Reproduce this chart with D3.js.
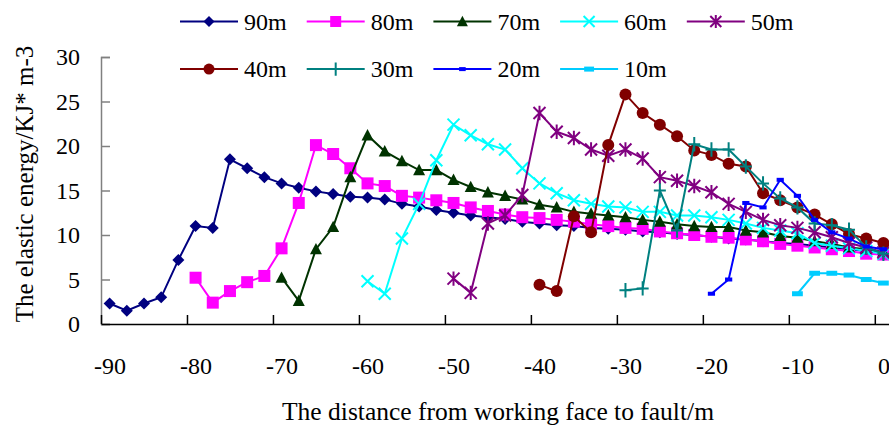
<!DOCTYPE html>
<html>
<head>
<meta charset="utf-8">
<script src="https://cdn.jsdelivr.net/npm/d3@7"></script>
<style>
  body { margin: 0; background: #fff; }
  svg { display: block; }
  svg text { font-family: 'Liberation Serif', 'Times New Roman', serif; }
</style>
</head>
<body>
<div id="chart"></div>
<script>
// distance from working face to fault (m), one category every 2 m
const distances = [-90, -88, -86, -84, -82, -80, -78, -76, -74, -72, -70, -68, -66, -64, -62, -60,
  -58, -56, -54, -52, -50, -48, -46, -44, -42, -40, -38, -36, -34, -32, -30, -28, -26, -24, -22,
  -20, -18, -16, -14, -12, -10, -8, -6, -4, -2, 0]
const xLabels = [-90, -80, -70, -60, -50, -40, -30, -20, -10, 0]
const yTicks = [0, 5, 10, 15, 20, 25, 30]

// elastic energy per series, each one ends at 0 m
const e90 = [2.3, 1.5, 2.3, 3.0, 7.2, 11.0, 10.8, 18.5, 17.5, 16.5, 15.8, 15.3, 14.9, 14.6, 14.3, 14.2,
  14.0, 13.5, 13.2, 12.8, 12.5, 12.2, 12.0, 11.8, 11.5, 11.3, 11.1, 11.0, 10.8, 10.7, 10.6, 10.4,
  10.3, 10.1, 10.0, 9.8, 9.6, 9.5, 9.3, 9.1, 9.0, 8.8, 8.6, 8.4, 8.2, 8.0]
const e80 = [5.2, 2.4, 3.7, 4.7, 5.4, 8.5, 13.6, 20.1, 19.1, 17.5, 15.8, 15.5, 14.4, 14.2, 13.9, 13.6,
  13.1, 12.7, 12.3, 12.0, 11.9, 11.7, 11.5, 11.2, 11.0, 10.8, 10.7, 10.4, 10.2, 10.0, 9.8, 9.7,
  9.5, 9.3, 9.0, 8.8, 8.6, 8.4, 8.2, 7.9, 7.8]
const e70 = [5.2, 2.6, 8.4, 10.9, 16.5, 21.2, 19.4, 18.3, 17.3, 17.3, 16.2, 15.4, 14.8, 14.4, 14.0,
  13.4, 13.1, 12.6, 12.4, 12.2, 12.0, 11.7, 11.5, 11.2, 11.0, 10.9, 10.9, 10.5, 10.3, 9.9, 9.7,
  9.3, 9.0, 8.6, 8.4, 8.1]
const e60 = [4.8, 3.4, 9.6, 13.5, 18.4, 22.4, 21.2, 20.2, 19.6, 17.5, 15.8, 14.7, 13.9, 13.5, 13.2,
  13.1, 12.6, 12.6, 12.2, 12.2, 12.0, 11.7, 11.3, 10.8, 10.5, 10.2, 9.1, 8.8, 8.5, 8.2, 7.9]
const e50 = [5.1, 3.5, 11.3, 12.2, 14.5, 23.7, 21.6, 20.9, 19.6, 18.9, 19.6, 18.6, 16.5, 16.1, 15.5,
  14.8, 13.5, 12.6, 11.7, 11.1, 10.8, 10.3, 9.75, 9.1, 8.6, 8.05]
const e40 = [4.4, 3.7, 12.1, 10.3, 20.1, 25.8, 23.7, 22.4, 21.1, 19.5, 19.0, 18.0, 17.7, 14.7, 13.9,
  13.1, 12.3, 11.2, 10.1, 9.6, 9.1]
const e30 = [3.8, 4.0, 15.0, 10.5, 20.2, 19.6, 19.6, 17.7, 15.8, 14.1, 13.1, 11.3, 11.1, 10.6, 8.6, 7.9]
const e20 = [3.4, 5.0, 13.6, 13.1, 16.2, 14.4, 11.7, 10.3, 9.6, 8.7, 8.4]
const e10 = [3.4, 5.7, 5.7, 5.5, 5.0, 4.6]

const seriesNames = ['90m', '80m', '70m', '60m', '50m', '40m', '30m', '20m', '10m']
const seriesValues = [e90, e80, e70, e60, e50, e40, e30, e20, e10]
const seriesColors = ['#000080', '#ff00ff', '#003300', '#00ffff', '#800080', '#800000', '#008080', '#0000ff', '#00ccff']
const seriesMarkers = ['diamond', 'square', 'triangle', 'x', 'asterisk', 'circle', 'plus', 'dash', 'bar']

const width = 889
const height = 433
const margin = { top: 57, right: -3, bottom: 109, left: 101 }
const font = "'Liberation Serif', 'Times New Roman', serif"
const fontSize = 24

const svg = d3.select('#chart').append('svg')
  .attr('width', width)
  .attr('height', height)

// categories sit between boundary ticks, one boundary each 10 m
const x = d3.scaleLinear().domain([-91, 1]).range([margin.left, width - margin.right])
const y = d3.scaleLinear().domain([0, 30]).range([height - margin.bottom, margin.top])

function drawMarker(g, type, color, s) {
  const h = s / 2
  if (type === 'diamond') {
    g.append('path').attr('d', `M0,${-h}L${h},0L0,${h}L${-h},0Z`).attr('fill', color)
  } else if (type === 'square') {
    g.append('rect').attr('x', -h).attr('y', -h).attr('width', s).attr('height', s).attr('fill', color)
  } else if (type === 'triangle') {
    g.append('path').attr('d', `M0,${-h * 1.05}L${h},${h * 0.85}L${-h},${h * 0.85}Z`).attr('fill', color)
  } else if (type === 'circle') {
    g.append('circle').attr('r', h).attr('fill', color)
  } else if (type === 'x') {
    g.append('path').attr('d', `M${-h},${-h}L${h},${h}M${-h},${h}L${h},${-h}`)
      .attr('stroke', color).attr('stroke-width', 2)
  } else if (type === 'asterisk') {
    g.append('path').attr('d', `M${-h},${-h}L${h},${h}M${-h},${h}L${h},${-h}M0,${-h * 1.2}L0,${h * 1.2}`)
      .attr('stroke', color).attr('stroke-width', 2)
  } else if (type === 'plus') {
    g.append('path').attr('d', `M${-h},0L${h},0M0,${-h * 1.2}L0,${h * 1.2}`)
      .attr('stroke', color).attr('stroke-width', 2)
  } else if (type === 'dash') {
    g.append('rect').attr('x', -h * 0.6).attr('y', -2).attr('width', s * 0.6).attr('height', 4).attr('fill', color)
  } else if (type === 'bar') {
    g.append('rect').attr('x', -h * 0.9).attr('y', -2.5).attr('width', s * 0.9).attr('height', 5).attr('fill', color)
  }
}

// y axis, ticks pointing into the plot
const yAxis = svg.append('g')
  .attr('transform', `translate(${margin.left},0)`)
  .call(d3.axisLeft(y).tickValues(yTicks).tickSize(-9).tickPadding(21))
yAxis.attr('font-family', font)
yAxis.select('.domain').attr('stroke', '#808080').attr('stroke-width', 1.5)
yAxis.selectAll('.tick line').attr('stroke', '#808080').attr('stroke-width', 1.5)
yAxis.selectAll('.tick text').attr('font-size', fontSize).attr('fill', '#000')

// x axis: tick marks on category boundaries
const xAxis = svg.append('g')
  .attr('transform', `translate(0,${height - margin.bottom})`)
  .call(d3.axisBottom(x).tickValues(d3.range(-91, 0, 10)).tickSize(-9).tickSizeOuter(0).tickFormat(''))
xAxis.select('.domain').attr('stroke', '#000').attr('stroke-width', 1.5)
xAxis.selectAll('.tick line').attr('stroke', '#000').attr('stroke-width', 1.5)

// x labels centred on the categories
const xLab = svg.append('g')
  .attr('transform', `translate(0,${height - margin.bottom})`)
  .call(d3.axisBottom(x).tickValues(xLabels).tickSize(0).tickPadding(33).tickFormat((d) => String(d)))
xLab.attr('font-family', font)
xLab.select('.domain').remove()
xLab.selectAll('.tick text').attr('font-size', fontSize).attr('fill', '#000')

// series
const line = d3.line().x((d) => x(d[0])).y((d) => y(d[1]))
seriesValues.forEach((vals, k) => {
  const offset = distances.length - vals.length
  const pts = vals.map((v, i) => [distances[offset + i], v])
  const g = svg.append('g')
  g.append('path')
    .attr('d', line(pts))
    .attr('fill', 'none')
    .attr('stroke', seriesColors[k])
    .attr('stroke-width', 2)
  pts.forEach((p) => {
    const m = g.append('g').attr('transform', `translate(${x(p[0])},${y(p[1])})`)
    drawMarker(m, seriesMarkers[k], seriesColors[k], 12)
  })
})

// legend, two rows
const legend = svg.append('g').attr('font-family', font)
seriesNames.forEach((name, k) => {
  const col = k % 5
  const row = Math.floor(k / 5)
  const lx = 180 + col * 126.7
  const ly = 21.5 + row * 47.6
  const item = legend.append('g').attr('transform', `translate(${lx},${ly})`)
  item.append('line').attr('x1', 0).attr('x2', 58).attr('y1', 0).attr('y2', 0)
    .attr('stroke', seriesColors[k]).attr('stroke-width', 2)
  const m = item.append('g').attr('transform', 'translate(29,0)')
  drawMarker(m, seriesMarkers[k], seriesColors[k], 11)
  item.append('text').attr('x', 64).attr('y', 8).attr('font-size', fontSize).text(name)
})

// axis titles
svg.append('text')
  .attr('transform', 'translate(33,184) rotate(-90)')
  .attr('text-anchor', 'middle')
  .attr('font-size', 25)
  .text('The elastic energy/KJ* m-3')

svg.append('text')
  .attr('x', 498)
  .attr('y', 420)
  .attr('text-anchor', 'middle')
  .attr('font-size', 25.5)
  .text('The distance from working face to fault/m')
</script>
</body>
</html>
